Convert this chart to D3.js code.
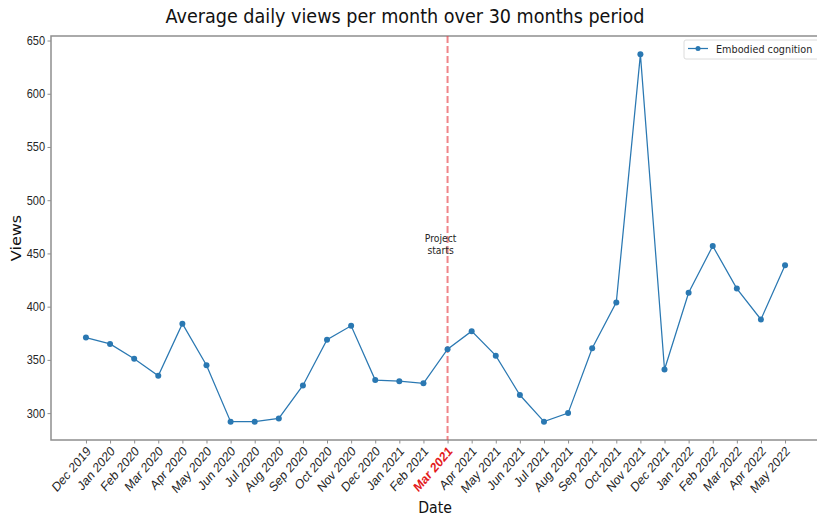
<!DOCTYPE html>
<html>
<head>
<meta charset="utf-8">
<script src="https://cdn.jsdelivr.net/npm/d3@7"></script>
<style>
  html, body { margin: 0; padding: 0; background: #fff; }
  svg { display: block; font-family: "DejaVu Sans", sans-serif; }
</style>
</head>
<body>
<svg id="chart" width="817" height="520"></svg>
<script>
// Monthly labels on the x axis
const months = [
  "Dec 2019", "Jan 2020", "Feb 2020", "Mar 2020", "Apr 2020", "May 2020",
  "Jun 2020", "Jul 2020", "Aug 2020", "Sep 2020", "Oct 2020", "Nov 2020",
  "Dec 2020", "Jan 2021", "Feb 2021", "Mar 2021", "Apr 2021", "May 2021",
  "Jun 2021", "Jul 2021", "Aug 2021", "Sep 2021", "Oct 2021", "Nov 2021",
  "Dec 2021", "Jan 2022", "Feb 2022", "Mar 2022", "Apr 2022", "May 2022"
];

// Average daily views for each month
const views = [
  371, 365, 351, 335, 384, 345,
  292, 292, 295, 326, 369, 382,
  331, 330, 328, 360, 377, 354,
  317, 292, 300, 361, 404, 637,
  341, 413, 457, 417, 388, 439
];

const yTicks = [300, 350, 400, 450, 500, 550, 600, 650];
const seriesName = "Embodied cognition";
const projectStart = "Mar 2021";

const svg = d3.select("#chart");
const plot = { left: 51, right: 820, top: 36, bottom: 440 };
const narrow = 0.88; // horizontal condensing of the text glyphs

// 5% padding on both axes, as in a default pyplot figure
const n = months.length;
const padX = (n - 1) * 0.05;
const x = d3.scaleLinear()
  .domain([-padX, n - 1 + padX])
  .range([plot.left, plot.right]);

const yMin = d3.min(views), yMax = d3.max(views);
const padY = (yMax - yMin) * 0.05;
const y = d3.scaleLinear()
  .domain([yMin - padY, yMax + padY])
  .range([plot.bottom, plot.top]);

const spineColor = "#8f8f8f";
const textColor = "#262626";
const lineColor = "#2a78b2";

// Place a text element at (tx, ty), condensed horizontally
function label(parent, tx, ty, str, size, anchor) {
  return parent.append("text")
    .attr("transform", `translate(${tx},${ty}) scale(${narrow},1)`)
    .attr("text-anchor", anchor || "middle")
    .attr("fill", textColor)
    .style("font-size", size + "px")
    .text(str);
}

// Y axis
const yAxis = svg.append("g")
  .attr("transform", `translate(${plot.left},0)`)
  .call(d3.axisLeft(y).tickValues(yTicks).tickSize(3.5).tickFormat(d3.format("d")));
yAxis.select(".domain").remove();
yAxis.selectAll(".tick line").attr("stroke", spineColor);
yAxis.selectAll(".tick text")
  .attr("x", 0)
  .attr("transform", `translate(-6,0) scale(${narrow},1)`)
  .attr("fill", textColor)
  .style("font-size", "12.5px");

// X axis with rotated month labels
const xAxis = svg.append("g")
  .attr("transform", `translate(0,${plot.bottom})`)
  .call(d3.axisBottom(x).tickValues(d3.range(n)).tickSize(3.5).tickFormat(i => months[i]));
xAxis.select(".domain").remove();
xAxis.selectAll(".tick line").attr("stroke", spineColor);
xAxis.selectAll(".tick text")
  .attr("text-anchor", "end")
  .attr("dy", null)
  .attr("y", 0)
  .attr("transform", `translate(5,12) scale(0.85,1) rotate(-45)`)
  .style("font-size", "13.5px")
  .attr("fill", (i) => months[i] === projectStart ? "#e31a1c" : textColor)
  .style("font-weight", (i) => months[i] === projectStart ? "bold" : "normal");

// Axes frame (left, top, bottom spines)
svg.append("path")
  .attr("d", `M${plot.right},${plot.top}H${plot.left}V${plot.bottom}H${plot.right}`)
  .attr("fill", "none")
  .attr("stroke", spineColor)
  .attr("stroke-width", 1.5);

// Project start marker
const startIdx = months.indexOf(projectStart);
svg.append("line")
  .attr("x1", x(startIdx)).attr("x2", x(startIdx))
  .attr("y1", plot.top).attr("y2", plot.bottom)
  .attr("stroke", "#e8444a")
  .attr("stroke-opacity", 0.65)
  .attr("stroke-width", 2)
  .attr("stroke-dasharray", "7,3");

label(svg, x(startIdx) - 7, 242, "Project", 10.5);
label(svg, x(startIdx) - 7, 254, "starts", 10.5);

// Series line and markers
svg.append("path")
  .datum(views)
  .attr("fill", "none")
  .attr("stroke", lineColor)
  .attr("stroke-width", 1.25)
  .attr("d", d3.line().x((d, i) => x(i)).y(d => y(d)));

svg.append("g")
  .selectAll("circle")
  .data(views)
  .join("circle")
  .attr("cx", (d, i) => x(i))
  .attr("cy", d => y(d))
  .attr("r", 3)
  .attr("fill", lineColor);

// Legend
const lg = svg.append("g").attr("transform", "translate(684,40)");
lg.append("rect")
  .attr("width", 140).attr("height", 19).attr("rx", 2)
  .attr("fill", "#fff").attr("stroke", "#dcdcdc");
lg.append("line")
  .attr("x1", 4).attr("x2", 24).attr("y1", 8.5).attr("y2", 8.5)
  .attr("stroke", lineColor).attr("stroke-width", 1.25);
lg.append("circle").attr("cx", 14).attr("cy", 8.5).attr("r", 2.5).attr("fill", lineColor);
label(lg, 32, 12.5, seriesName, 11, "start");

// Titles
label(svg, 405, 23, "Average daily views per month over 30 months period", 20).attr("fill", "#111");
label(svg, 435, 513, "Date", 16).attr("fill", "#111");

svg.append("text")
  .attr("transform", `translate(21,${(plot.top + plot.bottom) / 2}) scale(${narrow},1) rotate(-90)`)
  .attr("text-anchor", "middle")
  .attr("fill", "#111")
  .style("font-size", "16px")
  .text("Views");
</script>
</body>
</html>
